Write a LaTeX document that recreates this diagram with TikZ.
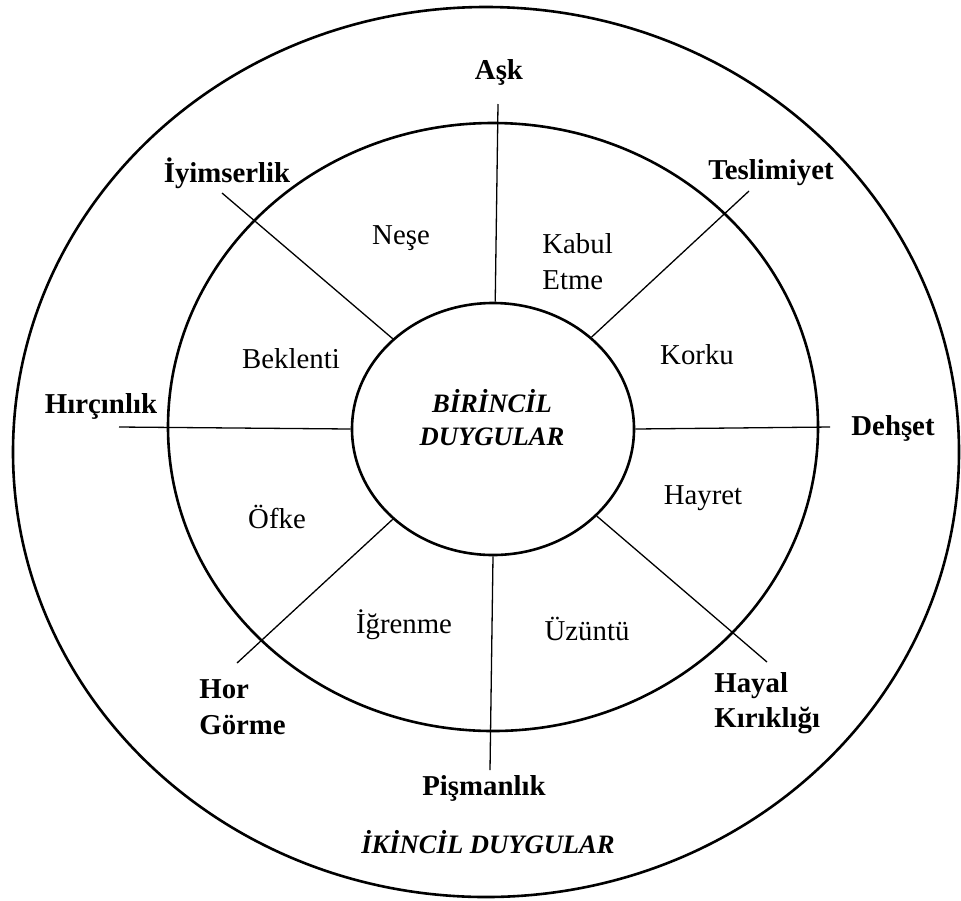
\documentclass[tikz,border=0pt]{standalone}
\usepackage{fontspec}
\setmainfont{LiberationSerif}[Extension=.ttf, UprightFont=*-Regular, BoldFont=*-Bold, ItalicFont=*-Italic, BoldItalicFont=*-BoldItalic]
\usetikzlibrary{shapes.geometric}
\begin{document}
\begin{tikzpicture}[x=0.5pt,y=-0.5pt,
  lbl/.style={font=\fontsize{14.4}{18}\selectfont, inner sep=0pt},
  blbl/.style={font=\fontsize{14.4}{17.8}\selectfont\bfseries, inner sep=0pt},
  bilbl/.style={font=\fontsize{13.3}{16.5}\selectfont\bfseries\itshape, inner sep=0pt},
  ring/.style={line width=1.3pt},
  spoke/.style={line width=0.65pt}]
\useasboundingbox (0,0) rectangle (961,900);
% rings
\draw[ring] (486,452) ellipse [x radius=236.5pt, y radius=222.5pt];
\draw[ring] (493,427) ellipse [x radius=162.5pt, y radius=152pt];
\node[ellipse, draw, ring, minimum width=141pt, minimum height=126pt, inner sep=0pt] (core) at (493,429) {};
\node[bilbl, align=center] (birincil) at (492,418) {BİRİNCİL\\DUYGULAR};
% outer ends of spokes
\coordinate (eAsk) at (498,104);
\coordinate (eTes) at (749,191);
\coordinate (eIyi) at (222,193);
\coordinate (eHir) at (119,427);
\coordinate (eDeh) at (830,427);
\coordinate (eHor) at (237,663);
\coordinate (eHay) at (767,662);
\coordinate (ePis) at (490,770);
% spokes
\draw[spoke] (core.89.1) -- (eAsk);
\draw[spoke] (core.43.1) -- (eTes);
\draw[spoke] (core.138.3) -- (eIyi);
\draw[spoke] (core.180) -- (eHir);
\draw[spoke] (core.0) -- (eDeh);
\draw[spoke] (core.222.5) -- (eHor);
\draw[spoke] (core.320.4) -- (eHay);
\draw[spoke] (core.270) -- (ePis);
% primary emotions
\node[lbl] (nese) at (401,238) {Neşe};
\node[lbl, align=left, anchor=west] (kabul) at (542,262) {Kabul\\Etme};
\node[lbl] (beklenti) at (291,359) {Beklenti};
\node[lbl] (korku) at (697,355) {Korku};
\node[lbl] (ofke) at (277,517) {Öfke};
\node[lbl] (hayret) at (703,498) {Hayret};
\node[lbl] (igrenme) at (404,625) {İğrenme};
\node[lbl] (uzuntu) at (587,629) {Üzüntü};
% secondary emotions
\node[blbl] (ask) at (499,72) {Aşk};
\node[blbl] (iyim) at (227,173) {İyimserlik};
\node[blbl] (tesl) at (771,173) {Teslimiyet};
\node[blbl] (hirc) at (101,406) {Hırçınlık};
\node[blbl] (dehs) at (893,428) {Dehşet};
\node[blbl, align=left, anchor=west] (hor) at (199,707) {Hor\\Görme};
\node[blbl, align=left, anchor=west] (hayal) at (714,703) {Hayal\\Kırıklığı};
\node[blbl] (pism) at (484,788) {Pişmanlık};
\node[bilbl] (ikincil) at (488,842) {İKİNCİL DUYGULAR};
\end{tikzpicture}
\end{document}
